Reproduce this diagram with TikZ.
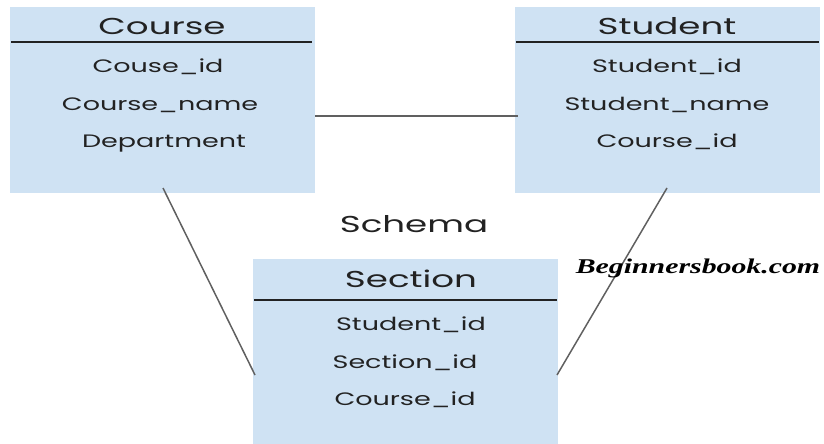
\documentclass[tikz,border=0pt]{standalone}
\usepackage{fontspec}
\setmainfont{Poppins}[FakeStretch=1.5]
\newfontfamily\titlefont{Poppins}[FakeStretch=1.55]
\newfontfamily\brandfont{Liberation Serif}[FakeStretch=1.42]
\definecolor{boxfill}{HTML}{CFE2F3}
\definecolor{linegray}{HTML}{606060}
\definecolor{txt}{HTML}{222222}
\begin{document}
\begin{tikzpicture}[x=1pt,y=-1pt,
  tbl/.style={fill=boxfill, draw=none, minimum width=305pt, minimum height=186pt, inner sep=0pt},
  ttl/.style={anchor=base, inner sep=0pt, text=txt, font=\titlefont\fontsize{23}{27}\selectfont},
  itm/.style={anchor=base, inner sep=0pt, text=txt, font=\fontsize{18}{22}\selectfont},
  hdr/.style={draw=txt, line width=2pt},
  conn/.style={draw=linegray, line width=1.5pt}]
\useasboundingbox (0,0) rectangle (824,444);
% boxes
\node[tbl] (course) at (162.5,100) {};
\node[tbl] (student) at (667.5,100) {};
\node[tbl, minimum height=190pt] (section) at (405.5,354) {};
% header lines
\coordinate (cl1) at (11,42); \coordinate (cl2) at (312,42);
\coordinate (sl1) at (516,42); \coordinate (sl2) at (819,42);
\coordinate (xl1) at (254,300); \coordinate (xl2) at (557,300);
\draw[hdr] (cl1) -- (cl2);
\draw[hdr] (sl1) -- (sl2);
\draw[hdr] (xl1) -- (xl2);
% titles
\node[ttl] (courset) at (162,35) {Course};
\node[ttl] (studentt) at (667,35) {Student};
\node[ttl] (sectiont) at (411,287) {Section};
\node[ttl] (schema) at (414,232) {Schema};
% course items
\node[itm] (c1) at (158,72) {Couse\_id};
\node[itm] (c2) at (160,110) {Course\_name};
\node[itm] (c3) at (164,147) {Department};
% student items
\node[itm] (s1) at (667,72) {Student\_id};
\node[itm] (s2) at (667,110) {Student\_name};
\node[itm] (s3) at (667,147) {Course\_id};
% section items
\node[itm] (x1) at (411,330) {Student\_id};
\node[itm] (x2) at (405,368) {Section\_id};
\node[itm] (x3) at (405,405) {Course\_id};
% connectors
\coordinate (cs1) at (315,116); \coordinate (cs2) at (518,116);
\draw[conn] (cs1) -- (cs2);
\coordinate (cx1) at (163,188); \coordinate (cx2) at (255,375);
\draw[conn] (cx1) -- (cx2);
\coordinate (sx1) at (667,188); \coordinate (sx2) at (557,375);
\draw[conn] (sx1) -- (sx2);
% brand
\node[anchor=base, inner sep=0pt, font=\brandfont\bfseries\itshape\fontsize{21}{24}\selectfont] (brand) at (698,273) {Beginnersbook.com};
\end{tikzpicture}
\end{document}
